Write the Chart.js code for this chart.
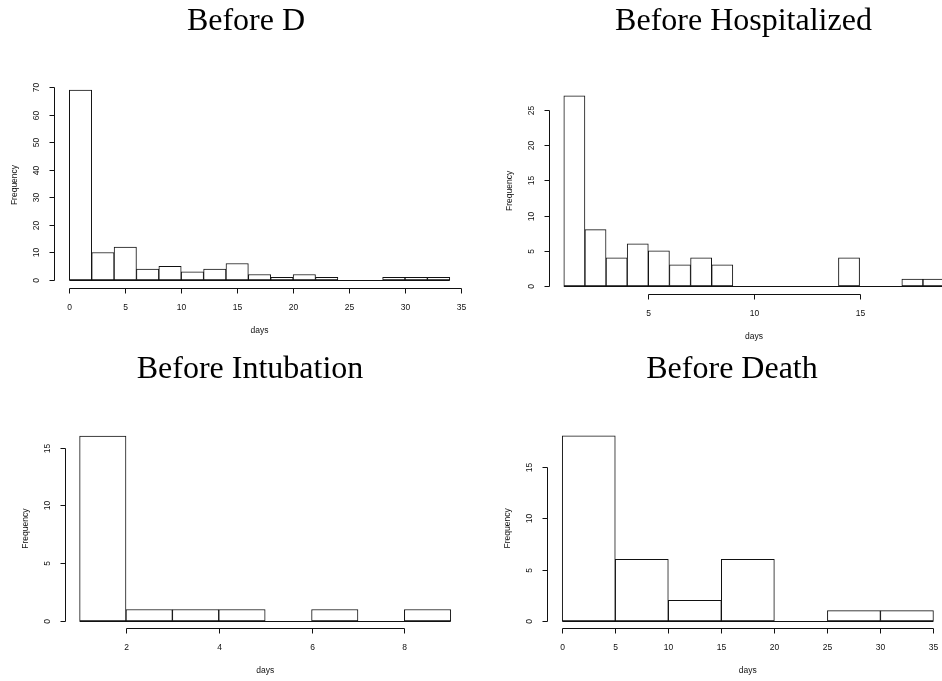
<!DOCTYPE html>
<html>
<head>
<meta charset="utf-8">
<script src="https://cdn.jsdelivr.net/npm/chart.js@4/dist/chart.umd.min.js"></script>
<style>
    html, body { margin: 0; padding: 0; background: #fff; overflow: hidden; }
    #wrap { position: relative; width: 942px; height: 681px; overflow: hidden; }
    #wrap canvas { position: absolute; left: 0; top: 0; }
</style>
</head>
<body>
<div id="wrap">
    <canvas id="cD" width="980" height="681"></canvas>
    <canvas id="cHosp" width="980" height="681"></canvas>
    <canvas id="cIntub" width="980" height="681"></canvas>
    <canvas id="cDeath" width="980" height="681"></canvas>
</div>
<script>
// --- histogram data ---
const dBreaks = [0, 2, 4, 6, 8, 10, 12, 14, 16, 18, 20, 22, 24, 26, 28, 30, 32, 34];
const dCounts = [69, 10, 12, 4, 5, 3, 4, 6, 2, 1, 2, 1, 0, 0, 1, 1, 1];
const dXTicks = [0, 5, 10, 15, 20, 25, 30, 35];
const dYTicks = [0, 10, 20, 30, 40, 50, 60, 70];

const hospBreaks = [1, 2, 3, 4, 5, 6, 7, 8, 9, 10, 11, 12, 13, 14, 15, 16, 17, 18, 19];
const hospCounts = [27, 8, 4, 6, 5, 3, 4, 3, 0, 0, 0, 0, 0, 4, 0, 0, 1, 1];
const hospXTicks = [5, 10, 15];
const hospYTicks = [0, 5, 10, 15, 20, 25];

const intubBreaks = [1, 2, 3, 4, 5, 6, 7, 8, 9];
const intubCounts = [16, 1, 1, 1, 0, 1, 0, 1];
const intubXTicks = [2, 4, 6, 8];
const intubYTicks = [0, 5, 10, 15];

const deathBreaks = [0, 5, 10, 15, 20, 25, 30, 35];
const deathCounts = [18, 6, 2, 6, 0, 1, 1];
const deathXTicks = [0, 5, 10, 15, 20, 25, 30, 35];
const deathYTicks = [0, 5, 10, 15];

const AXIS_FONT = '8.5px "Liberation Sans", Arial, sans-serif';
const TITLE_FONT = '32px "Liberation Serif", "Times New Roman", serif';

// R base-graphics look: axes from first to last tick, rotated y labels, titles
const rAxes = {
    id: 'rAxes',
    afterDraw(chart, args, o) {
        const { ctx, chartArea: a, scales: { x, y } } = chart;
        const crisp = v => Math.round(v) + 0.5;
        ctx.save();
        ctx.strokeStyle = '#111';
        ctx.fillStyle = '#111';
        ctx.lineWidth = 1;

        // flat line for the bins (empty bins show as a line at zero)
        const yz = crisp(y.getPixelForValue(0));
        ctx.beginPath();
        ctx.moveTo(x.getPixelForValue(o.breaks[0]), yz);
        ctx.lineTo(x.getPixelForValue(o.breaks[o.breaks.length - 1]), yz);
        ctx.stroke();

        // x axis
        const yb = crisp(a.bottom);
        const xs = x.ticks.map(t => crisp(x.getPixelForValue(t.value)));
        ctx.beginPath();
        ctx.moveTo(xs[0], yb);
        ctx.lineTo(xs[xs.length - 1], yb);
        xs.forEach(px => { ctx.moveTo(px, yb); ctx.lineTo(px, yb + 5); });
        ctx.stroke();
        ctx.font = AXIS_FONT;
        ctx.textAlign = 'center';
        ctx.textBaseline = 'middle';
        x.ticks.forEach((t, i) => ctx.fillText(String(t.value), xs[i], yb + 19));
        ctx.fillText('days', (a.left + a.right) / 2, yb + 42);

        // y axis
        const xl = crisp(a.left);
        const ys = y.ticks.map(t => crisp(y.getPixelForValue(t.value)));
        ctx.beginPath();
        ctx.moveTo(xl, ys[0]);
        ctx.lineTo(xl, ys[ys.length - 1]);
        ys.forEach(py => { ctx.moveTo(xl, py); ctx.lineTo(xl - 5, py); });
        ctx.stroke();
        y.ticks.forEach((t, i) => {
            ctx.save();
            ctx.translate(xl - 18, ys[i]);
            ctx.rotate(-Math.PI / 2);
            ctx.fillText(String(t.value), 0, 0);
            ctx.restore();
        });
        ctx.save();
        ctx.translate(xl - 40, (a.top + a.bottom) / 2);
        ctx.rotate(-Math.PI / 2);
        ctx.fillText('Frequency', 0, 0);
        ctx.restore();

        // main title
        ctx.fillStyle = '#000';
        ctx.font = TITLE_FONT;
        ctx.textBaseline = 'alphabetic';
        ctx.fillText(o.title, o.titleX, o.titleY);
        ctx.restore();
    }
};

function histChart(id, breaks, counts, xTicks, yTicks, range, box, title) {
    const canvas = document.getElementById(id);
    const W = canvas.width, H = canvas.height;
    const data = counts.map((c, i) => ({ x: (breaks[i] + breaks[i + 1]) / 2, y: c }));

    return new Chart(canvas, {
        type: 'bar',
        data: {
            datasets: [{
                data,
                backgroundColor: '#ffffff',
                borderColor: '#111111',
                borderWidth: 1,
                borderSkipped: false,
                barPercentage: 1.0,
                categoryPercentage: 1.0
            }]
        },
        options: {
            responsive: false,
            animation: false,
            events: [],
            layout: {
                padding: { left: box.left, top: box.top, right: W - box.right, bottom: H - box.bottom }
            },
            plugins: {
                legend: { display: false },
                tooltip: { enabled: false },
                rAxes: { breaks, title: title.text, titleX: title.x, titleY: title.y }
            },
            scales: {
                x: {
                    type: 'linear', display: false, offset: false, grid: { offset: false },
                    min: range.x[0], max: range.x[1],
                    afterBuildTicks: s => { s.ticks = xTicks.map(v => ({ value: v })); }
                },
                y: {
                    type: 'linear', display: false, min: range.y[0], max: range.y[1],
                    afterBuildTicks: s => { s.ticks = yTicks.map(v => ({ value: v })); }
                }
            }
        },
        plugins: [rAxes]
    });
}

histChart('cD', dBreaks, dCounts, dXTicks, dYTicks,
    { x: [-1.36, 35.36], y: [-2.76, 71.76] },
    { left: 54.1, right: 465, top: 82.4, bottom: 287.6 },
    { text: 'Before D', x: 246, y: 30 });

histChart('cHosp', hospBreaks, hospCounts, hospXTicks, hospYTicks,
    { x: [0.28, 19.72], y: [-1.08, 28.08] },
    { left: 548.6, right: 959.3, top: 88.3, bottom: 293.6 },
    { text: 'Before Hospitalized', x: 743.5, y: 30 });

histChart('cIntub', intubBreaks, intubCounts, intubXTicks, intubYTicks,
    { x: [0.68, 9.32], y: [-0.64, 16.64] },
    { left: 64.75, right: 465.6, top: 428.8, bottom: 628.4 },
    { text: 'Before Intubation', x: 250, y: 378 });

histChart('cDeath', deathBreaks, deathCounts, deathXTicks, deathYTicks,
    { x: [-1.4, 36.4], y: [-0.72, 18.72] },
    { left: 547.4, right: 948.3, top: 428.4, bottom: 628.4 },
    { text: 'Before Death', x: 732, y: 378 });
</script>
</body>
</html>
